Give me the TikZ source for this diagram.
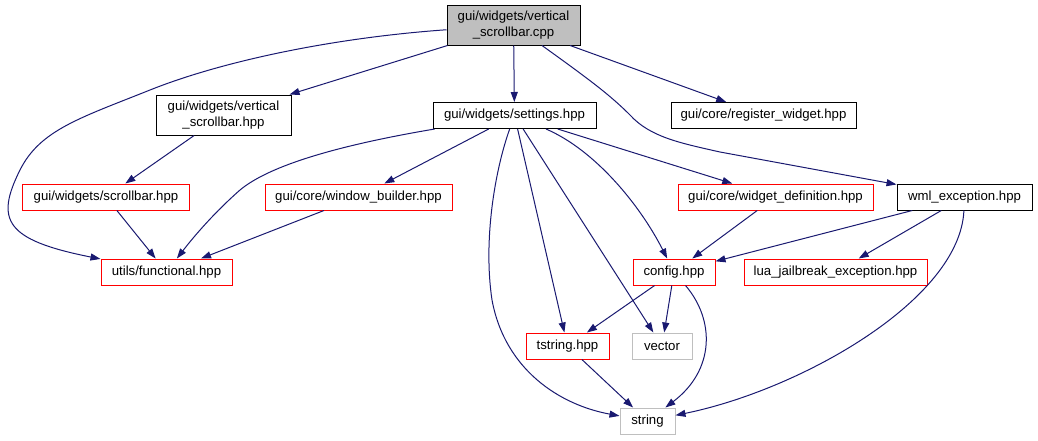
\documentclass[tikz,border=0pt]{standalone}
\usepackage{fontspec}
\setmainfont{Liberation Sans}
\usetikzlibrary{arrows.meta}

\definecolor{edgeblue}{HTML}{191970}
\definecolor{boxgray}{HTML}{BFBFBF}

\tikzset{
    file/.style={draw=black, line width=1pt, inner sep=0pt, minimum height=26pt,
        align=center, font=\fontsize{13.2}{15.5}\selectfont},
    redfile/.style={file, draw=red},
    sysfile/.style={file, draw=boxgray},
    dep/.style={draw=edgeblue, line width=1pt, -{Triangle[length=10pt,width=7pt]}}
}

\begin{document}
\begin{tikzpicture}[x=1pt, y=-1pt]

    \useasboundingbox (0,0) rectangle (1038,440);

    %% Include graph

    % Source file
    \node[file, fill=boxgray, minimum width=133, minimum height=40] (root) at (513.5,25) {gui/widgets/vertical\\\_scrollbar.cpp};

    % Direct includes
    \node[file, minimum width=135, minimum height=40] (vsbar) at (223.5,115) {gui/widgets/vertical\\\_scrollbar.hpp};
    \node[file, minimum width=163] (settings) at (514.5,115.5) {gui/widgets/settings.hpp};
    \node[file, minimum width=185] (register) at (763.5,115.5) {gui/core/register\_widget.hpp};

    % Second row
    \node[redfile, minimum width=167] (scrollbar) at (106,197) {gui/widgets/scrollbar.hpp};
    \node[redfile, minimum width=187] (builder) at (358.5,197) {gui/core/window\_builder.hpp};
    \node[redfile, minimum width=195] (widgetdef) at (775.5,197) {gui/core/widget\_definition.hpp};
    \node[file, minimum width=135] (wml) at (964.5,197) {wml\_exception.hpp};

    % Third row
    \node[redfile, minimum width=131] (functional) at (166.5,272) {utils/functional.hpp};
    \node[redfile, minimum width=82] (config) at (674,272) {config.hpp};
    \node[redfile, minimum width=183] (jailbreak) at (835.5,272) {lua\_jailbreak\_exception.hpp};

    % Bottom
    \node[redfile, minimum width=83] (tstring) at (567.5,346) {tstring.hpp};
    \node[sysfile, minimum width=60] (vector) at (662,346) {vector};
    \node[sysfile, minimum width=55] (string) at (647.5,421) {string};

    % From the source file
    \draw[dep] (root) -- (vsbar);
    \draw[dep] (root) -- (settings);
    \draw[dep] (root) -- (register);
    \draw[dep] (root) .. controls (330,38) and (220,62) .. (150,90)
        .. controls (80,118) and (40,130) .. (20,170)
        .. controls (-5,220) and (5,240) .. (functional);
    \draw[dep] (root) .. controls (590,80) and (610,95) .. (630,115)
        .. controls (650,137) and (680,143) .. (720,152) -- (wml);

    % From settings.hpp
    \draw[dep] (settings) .. controls (340,145) and (270,165) .. (240,190)
        .. controls (215,212) and (195,235) .. (functional);
    \draw[dep] (settings) -- (builder);
    \draw[dep] (settings) .. controls (495,170) and (483,240) .. (492,300)
        .. controls (505,370) and (560,405) .. (string);
    \draw[dep] (settings) -- (tstring);
    \draw[dep] (settings) -- (vector);
    \draw[dep] (settings) .. controls (595,150) and (640,205) .. (config);
    \draw[dep] (settings) -- (widgetdef);

    % Second row
    \draw[dep] (vsbar) -- (scrollbar);
    \draw[dep] (scrollbar) -- (functional);
    \draw[dep] (builder) -- (functional);
    \draw[dep] (widgetdef) -- (config);
    \draw[dep] (wml) -- (config);
    \draw[dep] (wml) -- (jailbreak);
    \draw[dep] (wml) .. controls (960,300) and (800,390) .. (string);

    % config.hpp and tstring.hpp
    \draw[dep] (config) -- (tstring);
    \draw[dep] (config) -- (vector);
    \draw[dep] (config) .. controls (715,320) and (715,370) .. (string);
    \draw[dep] (tstring) -- (string);

\end{tikzpicture}
\end{document}
